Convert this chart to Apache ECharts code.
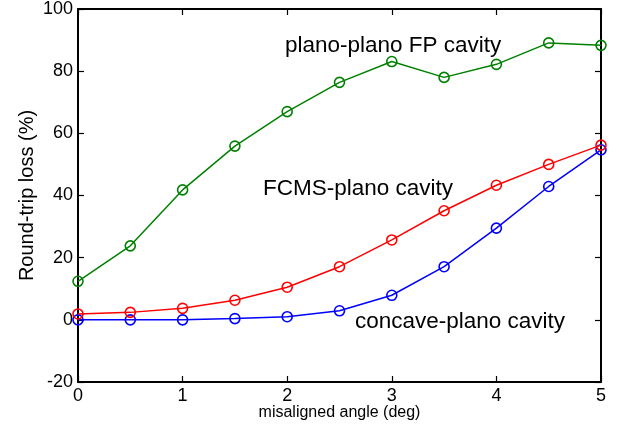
<!DOCTYPE html>
<html>
<head>
<meta charset="utf-8">
<script src="https://cdn.jsdelivr.net/npm/echarts@6/dist/echarts.min.js"></script>
<style>
  html, body { margin: 0; padding: 0; background: #fff; }
  #chart { width: 619px; height: 433px; }
</style>
</head>
<body>
<div id="chart"></div>
<script>
// Misalignment angle (deg)
const angles = [0, 0.5, 1, 1.5, 2, 2.5, 3, 3.5, 4, 4.5, 5];
// Round-trip loss (%) for each cavity type
const planoPlanoFP = [12.4, 23.8, 41.8, 55.9, 67.0, 76.4, 83.1, 78.0, 82.2, 89.1, 88.3];
const fcmsPlano    = [1.9, 2.4, 3.7, 6.3, 10.5, 17.1, 25.7, 35.1, 43.3, 50.0, 56.2];
const concavePlano = [0.0, 0.0, 0.0, 0.4, 1.0, 2.9, 7.9, 17.1, 29.5, 42.9, 54.7];

const curveNames = ['plano-plano FP cavity', 'FCMS-plano cavity', 'concave-plano cavity'];
const curveColors = ['#008000', '#ff0000', '#0000ff'];
const curveData = [planoPlanoFP, fcmsPlano, concavePlano];

const font = 'Liberation Sans, Arial, Helvetica, sans-serif';

const chart = echarts.init(document.getElementById('chart'), null, { renderer: 'canvas' });

const pairs = arr => angles.map((a, i) => [a, arr[i]]);

// Shared style for the boxed frame: every side drawn, ticks pointing inward
const frameAxis = () => ({
  axisLine: { show: true, onZero: false, lineStyle: { color: '#000', width: 2 } },
  axisTick: { show: true, inside: true, length: 6, lineStyle: { color: '#000', width: 1.2 } },
  splitLine: { show: false }
});

chart.setOption({
  animation: false,
  backgroundColor: '#fff',
  grid: { left: 78, right: 18, top: 8, bottom: 51, containLabel: false },
  xAxis: [
    Object.assign(frameAxis(), {
      type: 'value', min: 0, max: 5, interval: 1, position: 'bottom',
      name: 'misaligned angle (deg)', nameLocation: 'middle', nameGap: 23,
      nameMoveOverlap: false,
      nameTextStyle: { fontFamily: font, fontSize: 16, color: '#000' },
      axisLabel: { fontFamily: font, fontSize: 18, color: '#000', margin: 5 }
    }),
    Object.assign(frameAxis(), {
      type: 'value', min: 0, max: 5, interval: 1, position: 'top',
      axisLabel: { show: false }
    })
  ],
  yAxis: [
    Object.assign(frameAxis(), {
      type: 'value', min: -20, max: 100, interval: 20, position: 'left',
      name: 'Round-trip loss (%)', nameLocation: 'middle', nameGap: 41,
      nameMoveOverlap: false,
      nameTextStyle: { fontFamily: font, fontSize: 20, color: '#000' },
      axisLabel: { fontFamily: font, fontSize: 18, color: '#000', margin: 5 }
    }),
    Object.assign(frameAxis(), {
      type: 'value', min: -20, max: 100, interval: 20, position: 'right',
      axisLabel: { show: false }
    })
  ],
  series: curveNames.map((name, k) => ({
    name: name,
    type: 'line',
    data: pairs(curveData[k]),
    symbol: 'circle',
    symbolSize: 10,
    showAllSymbol: true,
    lineStyle: { color: curveColors[k], width: 1.5 },
    itemStyle: { color: 'rgba(0,0,0,0)', borderColor: curveColors[k], borderWidth: 1.6 },
    z: 3 - k
  })),
  graphic: [
    { type: 'text', left: 285, top: 34, style: { text: curveNames[0], font: '22.5px ' + font, fill: '#000' } },
    { type: 'text', left: 263, top: 177, style: { text: curveNames[1], font: '22.5px ' + font, fill: '#000' } },
    { type: 'text', left: 355, top: 310, style: { text: curveNames[2], font: '22.5px ' + font, fill: '#000' } }
  ]
});
</script>
</body>
</html>
